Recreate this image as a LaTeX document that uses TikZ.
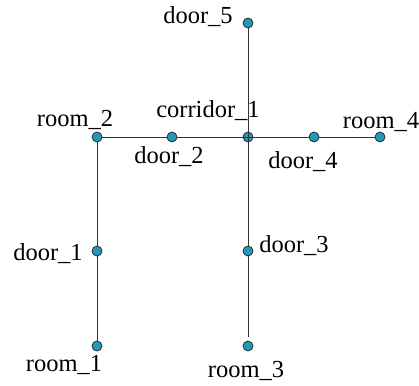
\documentclass[tikz,border=0pt]{standalone}
\usepackage{fontspec}
\setmainfont{Liberation Serif}
\definecolor{vfill}{RGB}{38,150,185}
\definecolor{vline}{RGB}{30,50,60}
\definecolor{eline}{RGB}{50,50,50}
\begin{document}
\begin{tikzpicture}[x=1pt,y=-1pt,
  vertex/.style={circle,draw=vline,fill=vfill,line width=0.8pt,inner sep=0pt,minimum size=10pt},
  edge/.style={draw=eline,line width=1pt},
  lbl/.style={inner sep=0pt,anchor=base,font=\fontsize{24.5}{28}\selectfont}]
\useasboundingbox (0,0) rectangle (419,385);
% graph vertices
\node[vertex] (door5) at (248,23) {};
\node[vertex] (corridor1) at (248,137) {};
\node[vertex] (room2) at (97,137) {};
\node[vertex] (door2) at (172,137) {};
\node[vertex] (door4) at (314,137) {};
\node[vertex] (room4) at (380,137) {};
\node[vertex] (door1) at (97,251) {};
\node[vertex] (door3) at (248,251) {};
\node[vertex] (room1) at (97,346) {};
\node[vertex] (room3) at (248,346) {};
% edges (the ones meeting the corridor run across its marker)
\draw[edge] (door5) -- (corridor1.center);
\draw[edge] (room2) -- (door2);
\draw[edge] (door2) -- (corridor1.center);
\draw[edge] (corridor1.center) -- (door4);
\draw[edge] (door4) -- (room4);
\draw[edge] (room2) -- (door1);
\draw[edge] (door1) -- (room1);
\draw[edge] (corridor1.center) -- (door3);
\draw[edge,shorten >=4pt] (door3) -- (room3);
% labels
\node[lbl] (t5) at (198,23.5) {door\_5};
\node[lbl] (tc) at (208,117) {corridor\_1};
\node[lbl] (tr2) at (75,126) {room\_2};
\node[lbl] (t2) at (169,163) {door\_2};
\node[lbl] (t4) at (303,168) {door\_4};
\node[lbl] (tr4) at (381,128) {room\_4};
\node[lbl] (t1) at (48,260) {door\_1};
\node[lbl] (t3) at (294,252) {door\_3};
\node[lbl] (tr1) at (64,371) {room\_1};
\node[lbl] (tr3) at (246,377) {room\_3};
\end{tikzpicture}
\end{document}
